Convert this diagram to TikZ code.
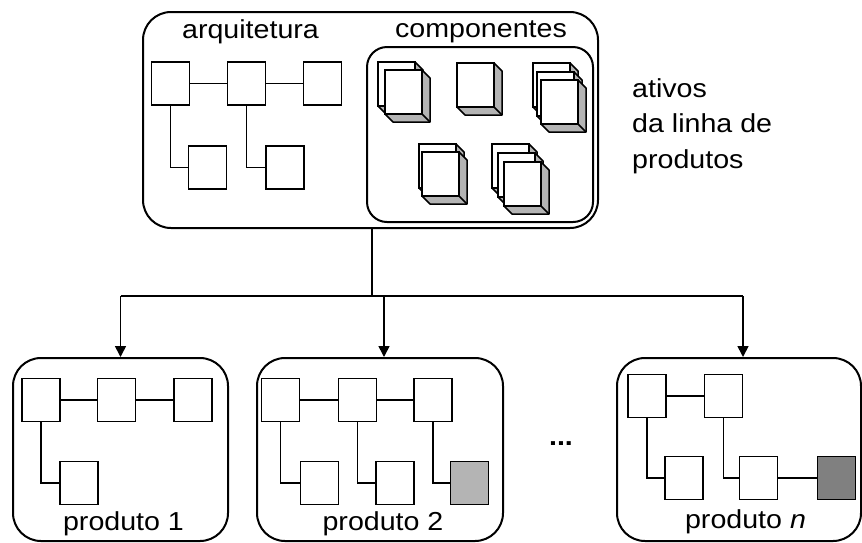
\documentclass[tikz,border=0pt]{standalone}
\usepackage{fontspec}
\setmainfont{Liberation Sans}[FakeStretch=1.1]
\usetikzlibrary{arrows.meta}
\definecolor{lightfill}{RGB}{180,180,180}
\definecolor{darkfill}{RGB}{128,128,128}
\definecolor{cubeside}{RGB}{180,180,180}

% A component drawn as a box seen slightly from the lower right:
% #1,#2 = top-left corner of the front face
\newcommand\boxcube[2]{%
  \draw[line width=1.5pt, fill=cubeside, line join=round]
    (#1+37,#2) -- (#1+45,#2+8) -- (#1+45,#2+52) -- (#1+8,#2+52)
    -- (#1,#2+44) -- (#1+37,#2+44) -- cycle;
  \draw[line width=1.5pt] (#1+37,#2+44) -- (#1+45,#2+52);
  \draw[line width=1.5pt, fill=white] (#1,#2) rectangle (#1+37,#2+44);
}

\begin{document}
\begin{tikzpicture}[x=1pt,y=-1pt,
  container/.style={draw, line width=2pt, rounded corners=28pt, inner sep=0pt, fill=white},
  subcontainer/.style={draw, line width=2pt, rounded corners=20pt, inner sep=0pt},
  blk/.style={draw, line width=1.6pt, fill=white, minimum width=38pt,
              minimum height=43pt, inner sep=0pt},
  link/.style={line width=1.6pt},
  flow/.style={line width=1.6pt, -{Triangle[width=11pt,length=11pt]}},
  lbl/.style={font=\fontsize{26}{30}\selectfont, inner sep=0pt, anchor=base}
]
\useasboundingbox (0,0) rectangle (862,542);

% ---- product line assets ----
\node[container, minimum width=455pt, minimum height=216pt] (assets) at (370.5,120) {};
\node[subcontainer, minimum width=226pt, minimum height=175pt] (comps) at (480,134.5) {};
\node[lbl] (archlbl) at (250.5,38) {arquitetura};
\node[lbl] (complbl) at (481,37) {componentes};

% architecture
\node[blk] (t1) at (170.5,83.5) {};
\node[blk] (t2) at (246.5,83.5) {};
\node[blk] (t3) at (322.5,83.5) {};
\node[blk] (t4) at (207.5,167.5) {};
\node[blk] (t5) at (285,167.5) {};
\draw[link] (t1.east) -- (t2.west);
\draw[link] (t2.east) -- (t3.west);
\draw[link] (t1.south) |- (t4.west);
\draw[link] (t2.south) |- (t5.west);

% components
\boxcube{378}{62}\boxcube{385}{70}
\boxcube{457}{63}
\boxcube{533}{63}\boxcube{537}{72}\boxcube{541}{80}
\boxcube{419}{144}\boxcube{422}{152}
\boxcube{492}{144}\boxcube{498}{153}\boxcube{504}{162}

% side caption
\node[lbl, anchor=base west] (cap1) at (632,97) {ativos};
\node[lbl, anchor=base west] (cap2) at (632,132.5) {da linha de};
\node[lbl, anchor=base west] (cap3) at (632,168) {produtos};

% ---- products ----
\node[container, minimum width=215pt, minimum height=183pt] (prod1) at (120.5,449.5) {};
\node[container, minimum width=246pt, minimum height=183pt] (prod2) at (380,449.5) {};
\node[container, minimum width=244pt, minimum height=183pt] (prodn) at (739,449.5) {};

% product 1
\node[blk] (a1) at (41,400) {};
\node[blk] (a2) at (116.5,400) {};
\node[blk] (a3) at (193,400) {};
\node[blk] (a4) at (79,483) {};
\draw[link] (a1.east) -- (a2.west);
\draw[link] (a2.east) -- (a3.west);
\draw[link] (a1.south) |- (a4.west);
\node[lbl] (p1lbl) at (123.5,530) {produto 1};

% product 2
\node[blk] (b1) at (280.5,400) {};
\node[blk] (b2) at (357.5,400) {};
\node[blk] (b3) at (433,400) {};
\node[blk] (b4) at (319.5,483) {};
\node[blk] (b5) at (395,483) {};
\node[blk, fill=lightfill] (b6) at (469.5,483) {};
\draw[link] (b1.east) -- (b2.west);
\draw[link] (b2.east) -- (b3.west);
\draw[link] (b1.south) |- (b4.west);
\draw[link] (b2.south) |- (b5.west);
\draw[link] (b3.south) |- (b6.west);
\node[lbl] (p2lbl) at (383,530) {produto 2};

% product n
\node[blk] (c1) at (647,396) {};
\node[blk] (c2) at (723.5,396) {};
\node[blk] (c3) at (684,478) {};
\node[blk] (c4) at (758.5,478) {};
\node[blk, fill=darkfill] (c5) at (836.5,478) {};
\draw[link] (c1.east) -- (c2.west);
\draw[link] (c1.south) |- (c3.west);
\draw[link] (c2.south) |- (c4.west);
\draw[link] (c4.east) -- (c5.west);
\node[lbl] (pnlbl) at (745.5,528) {produto \textit{n}};

\node[lbl, font=\fontsize{26}{30}\selectfont\bfseries] (dots) at (561,445) {...};

% ---- derivation arrows ----
\coordinate (out) at ([xshift=1.5pt]assets.south);
\coordinate (in1) at (prod1.north);
\coordinate (in2) at ([xshift=4pt]prod2.north);
\coordinate (inn) at ([xshift=4pt]prodn.north);
\draw[link] (out) -- (out |- 0,296) coordinate (fork);
\draw[link] (fork -| in1) -- (fork -| inn);
\draw[flow] (fork -| in1) -- (in1);
\draw[flow] (fork -| in2) -- (in2);
\draw[flow] (fork -| inn) -- (inn);
\end{tikzpicture}
\end{document}
